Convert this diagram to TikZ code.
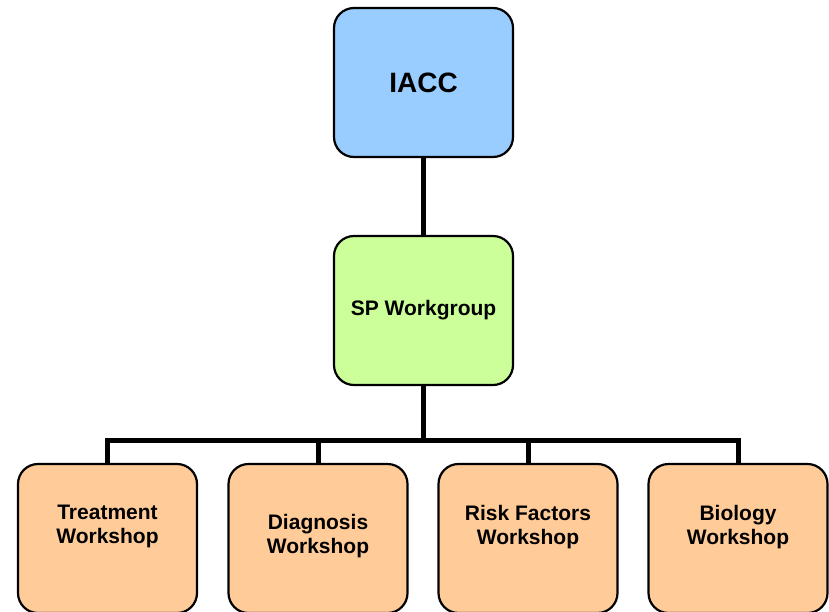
\documentclass[tikz,border=0pt]{standalone}
\usepackage{fontspec}
\setmainfont{Liberation Sans}
\definecolor{topblue}{HTML}{99CCFF}
\definecolor{midgreen}{HTML}{CCFF99}
\definecolor{shoppeach}{HTML}{FFCC99}

\begin{document}
\begin{tikzpicture}[x=1pt, y=-1pt,
  box/.style={draw, rounded corners=20pt, line width=2.2pt, minimum width=179pt,
    minimum height=149pt, align=center, font=\bfseries\fontsize{21}{24}\selectfont},
  shop/.style={box, fill=shoppeach, text depth=28pt},
  link/.style={line width=5pt}]
  \useasboundingbox (0,0) rectangle (829,611);

  \node [box,fill=topblue,font=\bfseries\fontsize{28}{32}\selectfont] (iacc) at (423.5, 82.5) {IACC};
  \node [box,fill=midgreen] (sp) at (423.5, 310.5) {SP Workgroup};
  \node [shop] (treat) at (107.5, 538.5) {Treatment\\Workshop};
  \node [shop,text depth=10pt] (diag) at (318, 538.5) {Diagnosis\\Workshop};
  \node [shop] (risk) at (528, 538.5) {Risk Factors\\Workshop};
  \node [shop] (bio) at (738, 538.5) {Biology\\Workshop};

  \coordinate (split) at (423.5, 440);
  \draw [link] (iacc) -- (sp);
  \draw [link] (sp) -- (split);
  \draw [link] (treat) |- (split) -| (bio);
  \draw [link] (diag) -- (diag |- split);
  \draw [link] (risk) -- (risk |- split);
\end{tikzpicture}
\end{document}
